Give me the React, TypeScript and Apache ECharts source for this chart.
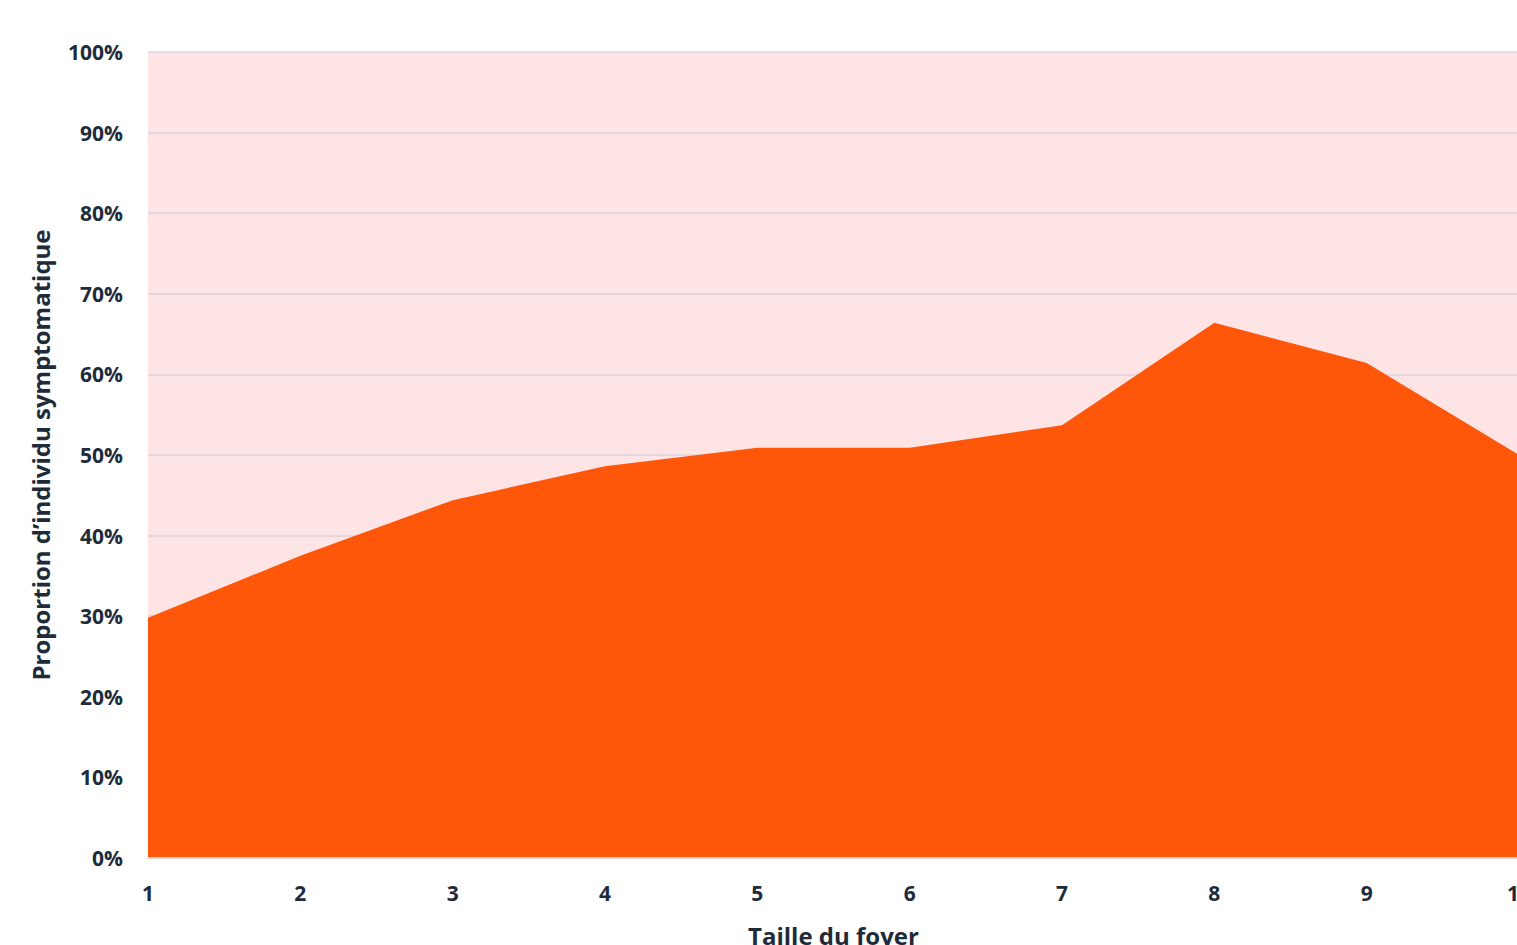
import React, { useEffect, useRef } from "react";
import * as echarts from "echarts";

const categories = ["1", "2", "3", "4", "5", "6", "7", "8", "9", "10"];
const symptomatic = [29.8, 37.5, 44.4, 48.6, 50.9, 50.9, 53.7, 66.4, 61.4, 50.0];
const total = [100, 100, 100, 100, 100, 100, 100, 100, 100, 100];
const yTicks = [0, 10, 20, 30, 40, 50, 60, 70, 80, 90, 100];

const textColor = "#1e2b3a";
const font = "'Open Sans', 'Noto Sans', sans-serif";

export default function App() {
  const ref = useRef<HTMLDivElement>(null);
  useEffect(() => {
    if (!ref.current) return;
    const chart = echarts.init(ref.current, undefined, { renderer: "svg" });
    const remainder = total.map((t, i) => +(t - symptomatic[i]).toFixed(1));
    chart.setOption({
      animation: false,
      grid: {
        left: 148,
        right: -2,
        top: 52,
        bottom: 87,
        show: true,
        borderWidth: 0,
        backgroundColor: "#ffe4e6",
        outerBoundsMode: "none",
        containLabel: false,
      },
      xAxis: {
        type: "category",
        data: categories,
        boundaryGap: false,
        name: "Taille du foyer",
        nameLocation: "middle",
        nameGap: 65,
        nameTextStyle: { color: textColor, fontSize: 24, fontWeight: "bold", fontFamily: font },
        axisLine: { show: true, lineStyle: { color: "#d9d9d9", width: 2 } },
        axisTick: { show: false },
        axisLabel: { color: textColor, fontSize: 21, fontWeight: "bold", fontFamily: font, margin: 24 },
        splitLine: { show: false },
        z: 3,
      },
      yAxis: {
        type: "value",
        min: 0,
        max: 100,
        interval: 10,
        name: "Proportion d\u2019individu symptomatique",
        nameLocation: "middle",
        nameRotate: 90,
        nameGap: 96,
        nameTextStyle: { color: textColor, fontSize: 24, fontWeight: "bold", fontFamily: font },
        axisLine: { show: false },
        axisTick: { show: false },
        axisLabel: {
          color: textColor,
          fontSize: 21,
          fontWeight: "bold",
          fontFamily: font,
          margin: 25,
          formatter: (v: number) => (yTicks.includes(v) ? v + "%" : ""),
        },
        splitLine: { show: true, lineStyle: { color: "rgba(190,200,215,0.45)", width: 2 } },
      },
      series: [
        {
          name: "Symptomatique",
          type: "line",
          stack: "total",
          data: symptomatic,
          symbol: "none",
          lineStyle: { width: 0 },
          areaStyle: { color: "#ff570a", opacity: 1 },
          z: 2,
        },
        {
          name: "Asymptomatique",
          type: "line",
          stack: "total",
          data: remainder,
          symbol: "none",
          lineStyle: { width: 0 },
          areaStyle: { color: "rgba(255,228,230,0)", opacity: 0 },
          z: 1,
        },
      ],
    });
    return () => chart.dispose();
  }, []);
  return (
    <div
      ref={ref}
      style={{ position: "absolute", left: 0, top: 0, width: 1517, height: 945, background: "#ffffff" }}
    />
  );
}
